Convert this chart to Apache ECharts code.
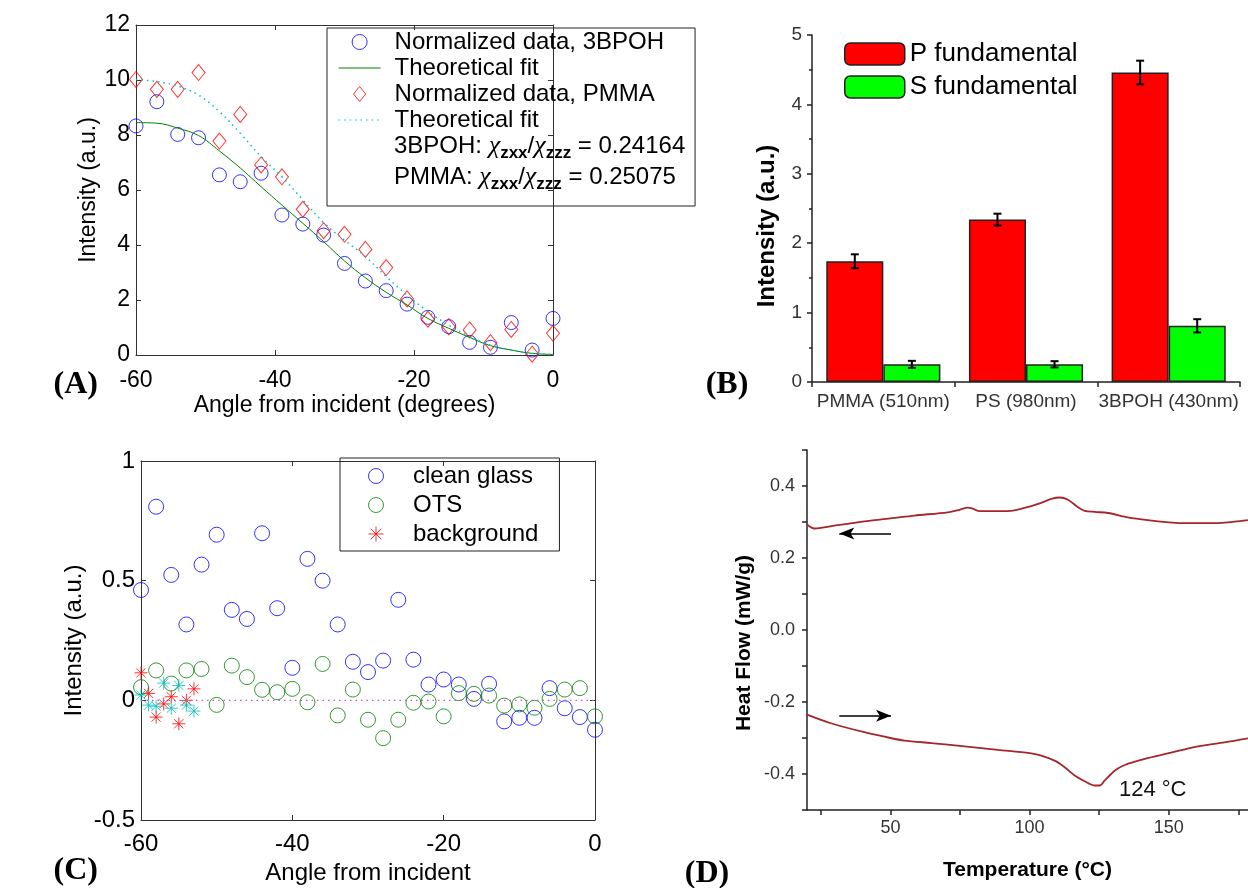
<!DOCTYPE html>
<html><head><meta charset="utf-8">
<script src="https://cdn.jsdelivr.net/npm/echarts@6/dist/echarts.min.js"></script>
<style>html,body{margin:0;padding:0;background:#fff}#c{width:1248px;height:888px}</style>
</head><body><div id="c"></div>
<script>
// ---------- Panel A ----------
const anglesA = [-60,-57,-54,-51,-48,-45,-42,-39,-36,-33,-30,-27,-24,-21,-18,-15,-12,-9,-6,-3,0];
const data3BPOH = [8.33,9.21,8.02,7.90,6.55,6.30,6.61,5.09,4.76,4.36,3.33,2.69,2.34,1.85,1.37,1.03,0.46,0.28,1.18,0.18,1.33];
const fit3BPOH  = [8.45,8.43,8.25,7.98,7.42,6.80,6.12,5.45,4.79,4.12,3.42,2.81,2.28,1.82,1.33,0.97,0.64,0.34,0.18,0.06,0.02];
const dataPMMA  = [10.02,9.66,9.66,10.27,7.78,8.75,6.91,6.48,5.30,4.52,4.39,3.84,3.18,2.04,1.30,1.03,0.91,0.45,0.93,0.03,0.79];
const fitPMMA   = [10.02,9.94,9.78,9.45,8.85,8.06,7.21,6.48,5.64,4.81,4.18,3.58,2.85,2.18,1.58,1.09,0.67,0.36,0.18,0.06,0.02];

// ---------- Panel B ----------
const samples = ['PMMA (510nm)','PS (980nm)','3BPOH (430nm)'];
const pFund = [1.74, 2.34, 4.46];
const pErr  = [0.10, 0.085, 0.17];
const sFund = [0.255, 0.255, 0.81];
const sErr  = [0.05, 0.045, 0.095];

// ---------- Panel C ----------
const anglesC = [-60,-58,-56,-54,-52,-50,-48,-46,-44,-42,-40,-38,-36,-34,-32,-30,-28,-26,-24,-22,-20,-18,-16,-14,-12,-10,-8,-6,-4,-2,0];
const cleanGlass = [0.461,0.809,0.524,0.317,0.567,0.692,0.378,0.340,0.698,0.385,0.136,0.591,0.500,0.317,0.161,0.118,0.166,0.420,0.170,0.066,0.087,0.066,0.006,0.069,-0.088,-0.073,-0.073,0.051,-0.033,-0.070,-0.123];
const ots = [0.055,0.125,0.07,0.125,0.131,-0.019,0.145,0.097,0.044,0.034,0.048,-0.008,0.152,-0.063,0.045,-0.081,-0.158,-0.081,-0.010,-0.005,-0.067,0.030,0.027,0.020,-0.022,-0.017,-0.031,0.006,0.045,0.051,-0.067];
const anglesBg = [-60,-59,-58,-57,-56,-55,-54,-53];
const background = [0.115,0.029,-0.070,-0.015,0.015,-0.098,0.0,0.048];
const background2 = [0.022,-0.020,-0.025,0.072,-0.033,0.062,-0.020,-0.045];
const zeroLine = [[-60,0],[0,0]];

// ---------- Panel D ----------
const tempCool = [20,22.6,24.4,29.8,34.6,40.6,50,58.6,70.6,74.8,77.8,79.6,81.4,83.8,92.2,100,104.2,107.8,110.8,113.8,117.4,119.8,123.4,128.2,135.3,142.5,150,154.5,166.5,173.7,178.5];
const flowCool = [0.293,0.282,0.283,0.290,0.295,0.302,0.310,0.318,0.327,0.334,0.340,0.337,0.331,0.330,0.330,0.343,0.353,0.364,0.368,0.362,0.341,0.331,0.328,0.325,0.313,0.305,0.299,0.297,0.297,0.301,0.305];
const tempHeat = [20,28.6,40.6,50,55,64.6,76.6,88.6,100,104.2,109,112.6,116.2,119.8,123.4,125.2,127,130.6,134.2,142.5,150,160.5,170.1,178.5];
const flowHeat = [-0.235,-0.259,-0.284,-0.300,-0.307,-0.314,-0.323,-0.333,-0.342,-0.349,-0.363,-0.381,-0.404,-0.420,-0.432,-0.432,-0.418,-0.391,-0.375,-0.356,-0.342,-0.323,-0.312,-0.301];
const tempTicks = [25,50,75,100,125,150,175];
const tempLabels = [50,100,150];
const flowTicks = [-0.5,-0.4,-0.3,-0.2,-0.1,0,0.1,0.2,0.3,0.4,0.5];
const flowLabels = [-0.4,-0.2,0,0.2,0.4];
const arrowCool = [[50.2,0.268],[31.6,0.268]];
const arrowHeat = [[31.6,-0.238],[50.2,-0.238]];

const SANS = 'Liberation Sans';
const pair = (xs, ys) => xs.map((x,i)=>[x, ys[i]]);
const STAR = 'path://M0,-10L0,10M-10,0L10,0M-7.07,-7.07L7.07,7.07M-7.07,7.07L7.07,-7.07';
const DIAMOND = 'path://M0,-8L6.5,0L0,8L-6.5,0Z';

function matlabX(grid, pos, show, fs, margin){
  return {type:'value', gridIndex:grid, position:pos, min:-60, max:0, interval:20,
    axisLine:{show:true, onZero:false, lineStyle:{color:'#333', width:1}},
    axisTick:{show:true, inside:true, length:5, lineStyle:{color:'#333'}},
    axisLabel:{show:show, fontFamily:SANS, fontSize:fs, color:'#000', margin:margin},
    splitLine:{show:false}};
}
function matlabY(grid, pos, show, fs, min, max, interval){
  return {type:'value', gridIndex:grid, position:pos, min:min, max:max, interval:interval,
    axisLine:{show:true, onZero:false, lineStyle:{color:'#333', width:1}},
    axisTick:{show:true, inside:true, length:5, lineStyle:{color:'#333'}},
    axisLabel:{show:show, fontFamily:SANS, fontSize:fs, color:'#000', margin:6},
    splitLine:{show:false}};
}
function errorRender(sign){
  return function(params, api){
    const x = api.value(0), v = api.value(1), e = api.value(2);
    const band = api.size([1,0])[0];
    const top = api.coord([x, v+e]), bot = api.coord([x, v-e]);
    const cx = top[0] + sign*band*0.2, hw = 4;
    const st = {stroke:'#000', lineWidth:2};
    return {type:'group', children:[
      {type:'line', shape:{x1:cx,y1:top[1],x2:cx,y2:bot[1]}, style:st},
      {type:'line', shape:{x1:cx-hw,y1:top[1],x2:cx+hw,y2:top[1]}, style:st},
      {type:'line', shape:{x1:cx-hw,y1:bot[1],x2:cx+hw,y2:bot[1]}, style:st}
    ]};
  };
}
const hollow = c => ({color:'rgba(0,0,0,0)', borderColor:c, borderWidth:1});
const chiRich = {
  c:{fontFamily:'Liberation Serif', fontStyle:'italic', fontSize:26, fill:'#000'},
  s:{fontFamily:SANS, fontSize:17, fontWeight:'bold', fill:'#000', padding:[15,0,0,0]}
};

const option = {
  animation:false,
  backgroundColor:'#fff',
  grid:[
    {left:136, top:25, width:417, height:330, outerBoundsMode:'none'},
    {left:812, top:35, width:428, height:347, outerBoundsMode:'none'},
    {left:141, top:461, width:454, height:359, outerBoundsMode:'none'},
    {left:807, top:450, width:441, height:360, outerBoundsMode:'none'}
  ],
  xAxis:[
    Object.assign(matlabX(0,'bottom',true,23,14), {name:'Angle from incident (degrees)', nameLocation:'middle', nameGap:39, nameTextStyle:{fontFamily:SANS, fontSize:23, color:'#000'}}),
    matlabX(0,'top',false,23,8),
    {type:'category', gridIndex:1, data:samples,
      axisLine:{show:true, lineStyle:{color:'#222', width:1.5}},
      axisTick:{show:true, length:5, lineStyle:{color:'#222', width:1.5}},
      axisLabel:{interval:0, fontFamily:SANS, fontSize:19, color:'#333', margin:10}},
    Object.assign(matlabX(2,'bottom',true,24,12), {name:'Angle from incident', nameLocation:'middle', nameGap:41, nameTextStyle:{fontFamily:SANS, fontSize:24, color:'#000'}}),
    matlabX(2,'top',false,24,8),
    {type:'value', gridIndex:3, min:20, max:178.5,
      name:'Temperature (°C)', nameLocation:'middle', nameGap:50,
      nameTextStyle:{fontFamily:SANS, fontSize:21, fontWeight:'bold', color:'#000'},
      axisLine:{show:true, onZero:false, lineStyle:{color:'#222', width:1.5}},
      axisTick:{show:true, length:5, customValues:tempTicks, lineStyle:{color:'#222', width:1.5}},
      axisLabel:{fontFamily:SANS, fontSize:18, color:'#333', margin:9, customValues:tempLabels},
      splitLine:{show:false}}
  ],
  yAxis:[
    Object.assign(matlabY(0,'left',true,23,0,12,2), {name:'Intensity (a.u.)', nameLocation:'middle', nameGap:36, nameTextStyle:{fontFamily:SANS, fontSize:23, color:'#000'}}),
    matlabY(0,'right',false,23,0,12,2),
    {type:'value', gridIndex:1, min:0, max:5, interval:1,
      axisLine:{show:true, onZero:false, lineStyle:{color:'#222', width:1.5}},
      axisTick:{show:true, length:5, lineStyle:{color:'#222', width:1.5}},
      minorTick:{show:true, splitNumber:2, length:3, lineStyle:{color:'#222', width:1.5}},
      axisLabel:{fontFamily:SANS, fontSize:19, color:'#333', margin:10},
      splitLine:{show:false}},
    Object.assign(matlabY(2,'left',true,24,-0.5,1,0.5), {name:'Intensity (a.u.)', nameLocation:'middle', nameGap:55, nameTextStyle:{fontFamily:SANS, fontSize:24, color:'#000'}}),
    matlabY(2,'right',false,24,-0.5,1,0.5),
    {type:'value', gridIndex:3, min:-0.5, max:0.5,
      axisLine:{show:true, onZero:false, lineStyle:{color:'#222', width:1.5}},
      axisTick:{show:true, length:5, customValues:flowTicks, lineStyle:{color:'#222', width:1.5}},
      axisLabel:{fontFamily:SANS, fontSize:18, color:'#333', margin:12, customValues:flowLabels, formatter:v=>Number(v).toFixed(1)},
      splitLine:{show:false}}
  ],
  legend:[
    {orient:'vertical', left:327, top:28, padding:[2,31,74,11], itemGap:2, itemWidth:42, itemHeight:15,
      borderColor:'#222', borderWidth:1, backgroundColor:'rgba(255,255,255,0)', selectedMode:false,
      data:[
        {name:'Normalized data, 3BPOH'},
        {name:'Theoretical fit', itemStyle:{opacity:0}},
        {name:'Normalized data, PMMA', icon:DIAMOND},
        {name:'Theoretical fit ', itemStyle:{opacity:0}}
      ],
      itemStyle:{borderWidth:1}, lineStyle:{width:1.2},
      textStyle:{fontFamily:SANS, fontSize:24, color:'#000', padding:[0,0,0,9]}},
    {orient:'vertical', left:844, top:41, padding:0, itemGap:7, itemWidth:60, itemHeight:22, selectedMode:false,
      data:['P fundamental','S fundamental'],
      itemStyle:{borderColor:'#222', borderWidth:1.5},
      textStyle:{fontFamily:SANS, fontSize:26, color:'#000'}},
    {orient:'vertical', left:340, top:458, padding:[6,21,5,28], itemGap:5, itemWidth:30, itemHeight:15,
      borderColor:'#222', borderWidth:1, backgroundColor:'rgba(255,255,255,0)', selectedMode:false,
      data:['clean glass','OTS','background'],
      itemStyle:{borderWidth:1},
      textStyle:{fontFamily:SANS, fontSize:24, color:'#000', padding:[0,0,0,17]}}
  ],
  series:[
    // A
    {name:'Normalized data, 3BPOH', type:'scatter', xAxisIndex:0, yAxisIndex:0, symbol:'circle', symbolSize:14,
      itemStyle:hollow('#0000ff'), data:pair(anglesA, data3BPOH)},
    {name:'Theoretical fit', type:'line', xAxisIndex:0, yAxisIndex:0, symbol:'none', smooth:0.4,
      lineStyle:{color:'#008000', width:1}, itemStyle:{color:'#008000'}, data:pair(anglesA, fit3BPOH)},
    {name:'Normalized data, PMMA', type:'scatter', xAxisIndex:0, yAxisIndex:0, symbol:'diamond', symbolSize:[13,16],
      itemStyle:hollow('#ff0000'), data:pair(anglesA, dataPMMA)},
    {name:'Theoretical fit ', type:'line', xAxisIndex:0, yAxisIndex:0, symbol:'none', smooth:0.4,
      lineStyle:{color:'#00bfbf', width:1.5, type:[1.5,4]}, itemStyle:{color:'#00bfbf'}, data:pair(anglesA, fitPMMA)},
    // B
    {name:'P fundamental', type:'bar', xAxisIndex:2, yAxisIndex:2, barGap:'0%', barCategoryGap:'20%',
      itemStyle:{color:'#ff0000', borderColor:'#222', borderWidth:1.5}, data:pFund},
    {name:'S fundamental', type:'bar', xAxisIndex:2, yAxisIndex:2, barGap:'0%', barCategoryGap:'20%',
      itemStyle:{color:'#00ff00', borderColor:'#222', borderWidth:1.5}, data:sFund},
    {name:'P error', type:'custom', xAxisIndex:2, yAxisIndex:2, renderItem:errorRender(-1), encode:{x:0,y:1}, z:5,
      data:samples.map((s,i)=>[i, pFund[i], pErr[i]])},
    {name:'S error', type:'custom', xAxisIndex:2, yAxisIndex:2, renderItem:errorRender(1), encode:{x:0,y:1}, z:5,
      data:samples.map((s,i)=>[i, sFund[i], sErr[i]])},
    // C
    {name:'zero', type:'line', xAxisIndex:3, yAxisIndex:3, symbol:'none', silent:true,
      lineStyle:{color:'#d050d0', width:1.2, type:[1.5,4]}, data:zeroLine},
    {name:'clean glass', type:'scatter', xAxisIndex:3, yAxisIndex:3, symbol:'circle', symbolSize:15,
      itemStyle:hollow('#0000ff'), data:pair(anglesC, cleanGlass)},
    {name:'OTS', type:'scatter', xAxisIndex:3, yAxisIndex:3, symbol:'circle', symbolSize:15,
      itemStyle:hollow('#008000'), data:pair(anglesC, ots)},
    {name:'background', type:'scatter', xAxisIndex:3, yAxisIndex:3, symbol:STAR, symbolSize:13,
      itemStyle:{color:'rgba(0,0,0,0)', borderColor:'#ff0000', borderWidth:1}, data:pair(anglesBg, background)},
    {name:'background 2', type:'scatter', xAxisIndex:3, yAxisIndex:3, symbol:STAR, symbolSize:13,
      itemStyle:{color:'rgba(0,0,0,0)', borderColor:'#00bfbf', borderWidth:1}, data:pair(anglesBg, background2)},
    // D
    {name:'cooling', type:'line', xAxisIndex:5, yAxisIndex:5, symbol:'none', smooth:0.3,
      lineStyle:{color:'#a5262b', width:1.8}, data:pair(tempCool, flowCool),
      markLine:{silent:true, symbol:['none','arrow'], symbolSize:[9,15], label:{show:false},
        lineStyle:{color:'#000', width:1.5, type:'solid'},
        data:[[{coord:arrowCool[0]},{coord:arrowCool[1]}]]}},
    {name:'heating', type:'line', xAxisIndex:5, yAxisIndex:5, symbol:'none', smooth:0.3,
      lineStyle:{color:'#a5262b', width:1.8}, data:pair(tempHeat, flowHeat),
      markLine:{silent:true, symbol:['none','arrow'], symbolSize:[9,15], label:{show:false},
        lineStyle:{color:'#000', width:1.5, type:'solid'},
        data:[[{coord:arrowHeat[0]},{coord:arrowHeat[1]}]]}}
  ],
  graphic:[
    {type:'text', z:100, left:394, top:133, style:{text:'3BPOH: {c|χ}{s|zxx}/{c|χ}{s|zzz} = 0.24164', fontFamily:SANS, fontSize:24, fill:'#000', rich:chiRich}},
    {type:'text', z:100, left:394, top:164, style:{text:'PMMA: {c|χ}{s|zxx}/{c|χ}{s|zzz} = 0.25075', fontFamily:SANS, fontSize:24, fill:'#000', rich:chiRich}},
    {type:'text', z:100, x:767, y:226, rotation:Math.PI/2, style:{text:'Intensity (a.u.)', fontFamily:SANS, fontSize:24, fontWeight:'bold', fill:'#000', align:'center', verticalAlign:'middle'}},
    {type:'text', z:100, x:744, y:643, rotation:Math.PI/2, style:{text:'Heat Flow (mW/g)', fontFamily:SANS, fontSize:21, fontWeight:'bold', fill:'#000', align:'center', verticalAlign:'middle'}},
    {type:'text', z:100, x:1119, y:790, style:{text:'124 °C', fontFamily:SANS, fontSize:22, fill:'#111', align:'left', verticalAlign:'middle'}},
    {type:'text', z:100, x:98, y:385, style:{text:'(A)', fontFamily:'Liberation Serif', fontSize:32, fontWeight:'bold', fill:'#000', align:'right', verticalAlign:'middle'}},
    {type:'text', z:100, x:727, y:385, style:{text:'(B)', fontFamily:'Liberation Serif', fontSize:32, fontWeight:'bold', fill:'#000', align:'center', verticalAlign:'middle'}},
    {type:'text', z:100, x:98, y:871, style:{text:'(C)', fontFamily:'Liberation Serif', fontSize:32, fontWeight:'bold', fill:'#000', align:'right', verticalAlign:'middle'}},
    {type:'text', z:100, x:707, y:874, style:{text:'(D)', fontFamily:'Liberation Serif', fontSize:32, fontWeight:'bold', fill:'#000', align:'center', verticalAlign:'middle'}}
  ]
};
const chart = echarts.init(document.getElementById('c'), null, {renderer:'canvas'});
chart.setOption(option);
</script>
</body></html>
